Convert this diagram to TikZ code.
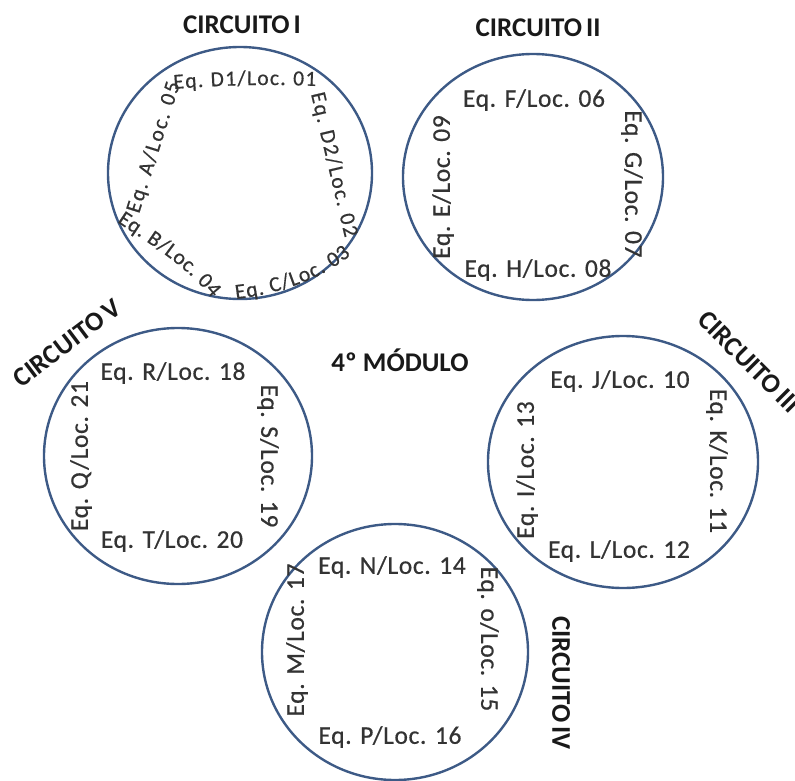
\documentclass[tikz,border=0pt]{standalone}
\usepackage{fontspec}
\setmainfont{Carlito}
\newfontfamily\eqfam[LetterSpace=2.5, FakeBold=0.6]{Carlito}
\newfontfamily\arcfam[FakeBold=0.6]{Carlito}
\usetikzlibrary{decorations.text}
\definecolor{ringblue}{HTML}{3D5A86}
\definecolor{eqgray}{HTML}{333333}
\newcommand\ringItext{\arcfam\fontsize{21.5}{24}\selectfont}
\begin{document}
\begin{tikzpicture}[x=1pt,y=-1pt,
  ring/.style={draw=ringblue, line width=2.4pt},
  eqlab/.style={font=\eqfam\fontsize{25.5}{30}\selectfont, text=eqgray, inner sep=0pt},
  ctitle/.style={font=\bfseries\fontsize{27}{32}\selectfont, text=black!90, inner sep=0pt},
  arctext/.style={decorate, decoration={text along path, text align=fit to path, text color=eqgray, text={|\ringItext|#1}}}
]
\useasboundingbox (0,0) rectangle (795,781);
\clip (0,0) rectangle (795,781);

% circle centres
\coordinate (c1) at (240,173);
\coordinate (c2) at (533,177);
\coordinate (c3) at (623,462);
\coordinate (c4) at (395,652);
\coordinate (c5) at (178,456);

\draw[ring] (c1) ellipse [x radius=132, y radius=126];
\draw[ring] (c2) ellipse [x radius=130, y radius=123];
\draw[ring] (c3) ellipse [x radius=135, y radius=126];
\draw[ring] (c4) ellipse [x radius=133, y radius=128];
\draw[ring] (c5) ellipse [x radius=134, y radius=128];

% titles
\node[ctitle] (t1) at (242,25) {CIRCUITO\hspace{0.15em}I};
\node[ctitle] (t2) at (538,28) {CIRCUITO\hspace{0.15em}II};
\node[ctitle, rotate=-45] (t3) at (749,362) {CIRCUITO\hspace{0.15em}III};
\node[ctitle, rotate=-90] (t4) at (561,683) {CIRCUITO\hspace{0.15em}IV};
\node[ctitle, rotate=37] (t5) at (67,343) {CIRCUITO\hspace{0.15em}V};
\node[ctitle] (mod) at (400,360) {4º MÓDULO};

% circuit I (curved texts)
\path[arctext={Eq. D1/Loc. 01}] (174,89) .. controls (220,85) and (270,84) .. (316,86);
\path[arctext={Eq. D2/Loc. 02}] (311,94) -- (345,238);
\path[arctext={Eq. C/Loc. 03}] (236,299) .. controls (278,294) and (320,280) .. (351,255);
\path[arctext={Eq. B/Loc. 04}] (117,222) .. controls (150,244) and (185,265) .. (212,298);
\path[arctext={Eq. A/Loc. 05}] (139,214) -- (180,84);

% circuit II
\node[eqlab] (f) at (534,100) {Eq. F/Loc. 06};
\node[eqlab, rotate=-90] (g) at (632,184) {Eq. G/Loc. 07};
\node[eqlab] (h) at (538,270) {Eq. H/Loc. 08};
\node[eqlab, rotate=90] (e) at (443,187) {Eq. E/Loc. 09};

% circuit III
\node[eqlab] (j) at (620,381) {Eq. J/Loc. 10};
\node[eqlab, rotate=-90] (k) at (717,461) {Eq. K/Loc. 11};
\node[eqlab] (l) at (619,551) {Eq. L/Loc. 12};
\node[eqlab, rotate=90] (i) at (527,470) {Eq. I/Loc. 13};

% circuit IV
\node[eqlab] (n) at (392,567) {Eq. N/Loc. 14};
\node[eqlab, rotate=-90] (o) at (488,639) {Eq. o/Loc. 15};
\node[eqlab] (p) at (390,737) {Eq. P/Loc. 16};
\node[eqlab, rotate=90] (m) at (297,640) {Eq. M/Loc. 17};

% circuit V
\node[eqlab] (r) at (173,373) {Eq. R/Loc. 18};
\node[eqlab, rotate=-90] (s) at (268,456) {Eq. S/Loc. 19};
\node[eqlab] (t) at (172,541) {Eq. T/Loc. 20};
\node[eqlab, rotate=90] (q) at (81,456) {Eq. Q/Loc. 21};
\end{tikzpicture}
\end{document}
